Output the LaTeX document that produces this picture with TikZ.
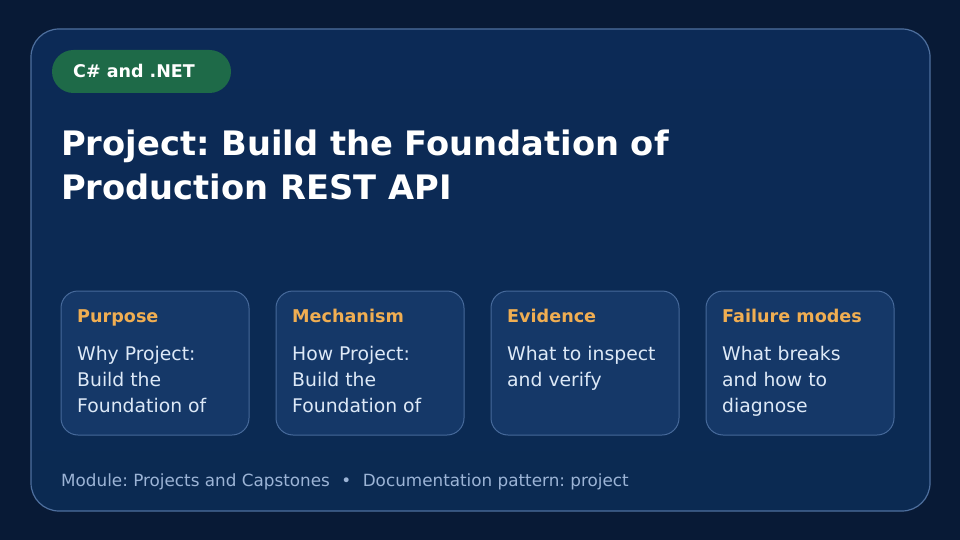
\documentclass[tikz,border=0pt]{standalone}
\usepackage{fontspec}
\setmainfont{DejaVu Sans}
\frenchspacing
\definecolor{bgdark}{HTML}{081A36}
\definecolor{panelA}{HTML}{0C2A56}
\definecolor{panelB}{HTML}{0B2A52}
\definecolor{panelborder}{HTML}{4E6F9E}
\definecolor{cardfill}{HTML}{153868}
\definecolor{cardborder}{HTML}{46699A}
\definecolor{pillgreen}{HTML}{1E6A48}
\definecolor{headorange}{HTML}{F0AE52}
\definecolor{bodytext}{HTML}{DDE9F7}
\definecolor{foottext}{HTML}{9CB4D6}
\tikzset{
  card/.style={draw=cardborder, line width=1pt, fill=cardfill, rounded corners=17pt},
  cardhead/.style={anchor=base west, inner sep=0pt, text=headorange, font=\fontsize{17.6}{20}\selectfont\bfseries},
  cardbody/.style={anchor=base west, inner sep=0pt, text=bodytext, font=\fontsize{18.8}{26}\selectfont, align=left},
}
\begin{document}
\begin{tikzpicture}[x=1pt,y=-1pt]
\useasboundingbox (0,0) rectangle (960,540);
\fill[bgdark] (0,0) rectangle (960,540);
\shade[top color=panelA, bottom color=panelB, draw=panelborder, line width=1.2pt, rounded corners=28pt] (31,29) rectangle (930,511);
\node[fill=pillgreen, rounded corners=21.5pt, minimum width=179pt, minimum height=43pt, inner sep=0pt] (pill) at (141.5,71.5) {};
\node[anchor=base west, inner sep=0pt, text=white, font=\fontsize{17.5}{20}\selectfont\bfseries] (pilltext) at (73,77.5) {C\# and .NET};
\node[anchor=base west, inner sep=0pt, text=white, font=\fontsize{33.7}{44}\selectfont\bfseries, align=left] (title) at (61,200) {Project: Build the Foundation of\\Production REST API};
\foreach \i/\x/\h/\b/\n in {1/61/Purpose/{Why Project:\\Build the\\Foundation of}/3,2/276/Mechanism/{How Project:\\Build the\\Foundation of}/3,3/491/Evidence/{What to inspect\\and verify}/2,4/706/Failure modes/{What breaks\\and how to\\diagnose}/3}{
  \draw[card] (\x,291) rectangle ++(188,144);
  \node[cardhead] (head\i) at (\x+16,322.7) {\h};
  \node[cardbody] (body\i) at (\x+16,334+26*\n) {\b};
}
\node[anchor=base west, inner sep=0pt, text=foottext, font=\fontsize{16.8}{20}\selectfont] (footer) at (61,486) {Module: Projects and Capstones\hspace{11.5pt}•\hspace{11.5pt}Documentation pattern: project};
\end{tikzpicture}
\end{document}
